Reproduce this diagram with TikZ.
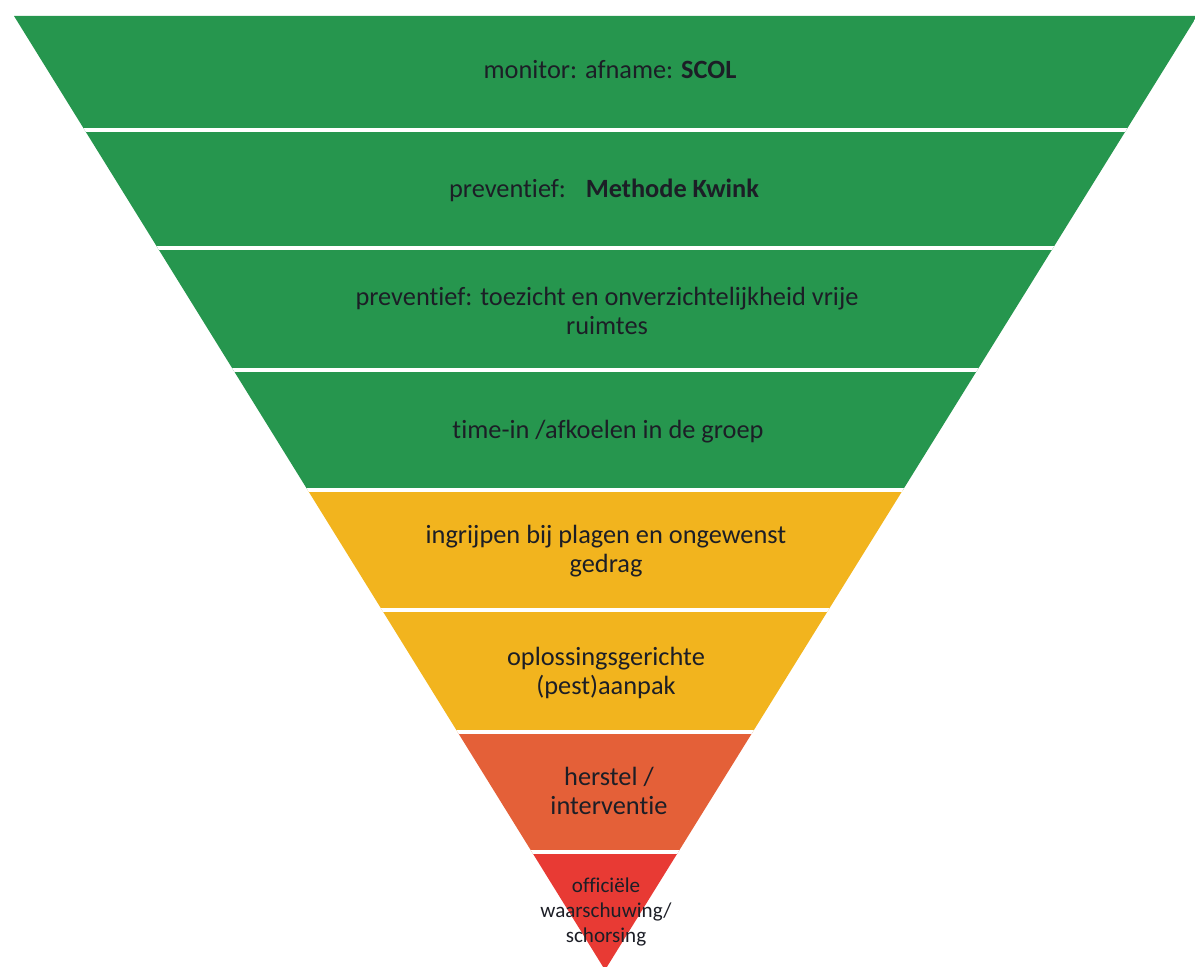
\documentclass[tikz,border=0pt]{standalone}
\usepackage{fontspec}
\setmainfont{Carlito}[Ligatures=NoCommon]
\definecolor{lv_green}{RGB}{38, 150, 78}
\definecolor{lv_yellow}{RGB}{242, 180, 30}
\definecolor{lv_orange}{RGB}{228, 96, 56}
\definecolor{lv_red}{RGB}{232, 58, 52}
\definecolor{lv_text}{RGB}{28, 30, 38}

\begin{document}
\begin{tikzpicture}[x=0.02cm, y=-0.02cm,
            lbl/.style={align=center, text=lv_text,
                        font=\fontsize{15}{16.6}\selectfont},
            sep/.style={white, line width=1.8pt}]
  \useasboundingbox (0,0) rectangle (1195,966);
  \coordinate (tl) at (14,16);
  \coordinate (tr) at (1197,16);
  \coordinate (apex) at (605,970);
  % layers of the inverted pyramid
  \begin{scope}
    \clip (tl) -- (tr) -- (apex) -- cycle;
    \fill[lv_green] (0,0) rectangle (1200,490);
    \fill[lv_yellow] (0,490) rectangle (1200,732);
    \fill[lv_orange] (0,732) rectangle (1200,852);
    \fill[lv_red] (0,852) rectangle (1200,980);
    \foreach \y in {130,248,370,490,610,732,852}
      \draw[sep] (0,\y) -- (1200,\y);
  \end{scope}
  \node[lbl] (scol) at (610,70) {monitor: afname: \textbf{SCOL}};
  \node[lbl] (kwink) at (604,190) {preventief:\hspace{0.75em}\textbf{Methode Kwink}};
  \node[lbl] (toezicht) at (607,311)
    {preventief: toezicht en onverzichtelijkheid vrije\\ruimtes};
  \node[lbl] (timein) at (608,432) {time-in /afkoelen in de groep};
  \node[lbl] (ingrijpen) at (606,551) {ingrijpen bij plagen en ongewenst\\gedrag};
  \node[lbl] (aanpak) at (606,673) {oplossingsgerichte\\(pest)aanpak};
  \node[lbl] (herstel) at (609,791) {herstel /\\interventie};
  \node[lbl, font=\fontsize{12}{14}\selectfont] (schorsing) at (606,912)
    {officiële\\waarschuwing/\\schorsing};
\end{tikzpicture}
\end{document}
